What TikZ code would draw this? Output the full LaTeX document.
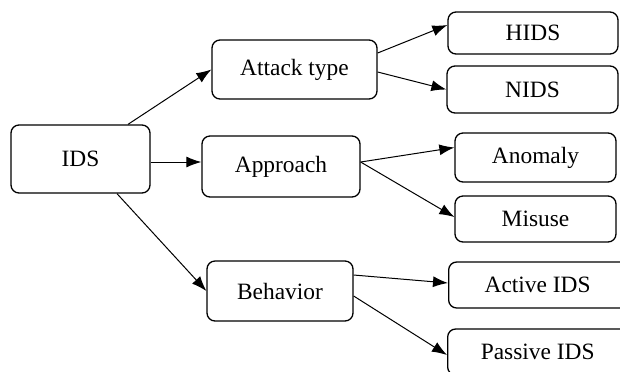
\documentclass[tikz,border=0pt]{standalone}
\usepackage{fontspec}
\setmainfont{Liberation Serif}
\usetikzlibrary{arrows.meta}

\tikzset{
  box/.style={draw,rounded corners=4pt,line width=0.65pt,inner sep=0pt,
    font=\fontsize{11.7}{14}\selectfont},
  link/.style={-{Latex[length=7.5pt,width=5.5pt]},line width=0.5pt}
}

\begin{document}
\begin{tikzpicture}[x=0.5pt,y=-0.5pt]
  \useasboundingbox (0,0) rectangle (620,371);
  \clip (0,0) rectangle (620,371);

  % root
  \node[box,minimum width=69.5pt,minimum height=34pt] (ids) at (80.5,159) {IDS};

  % criteria
  \node[box,minimum width=82.5pt,minimum height=29.5pt] (att) at (294.5,69.5) {Attack type};
  \node[box,minimum width=79pt,minimum height=30.5pt] (app) at (281,166.5) {Approach};
  \node[box,minimum width=73pt,minimum height=30pt] (beh) at (280,291) {Behavior};

  % leaves
  \node[box,minimum width=85pt,minimum height=21pt] (hids) at (533,33) {HIDS};
  \node[box,minimum width=85.5pt,minimum height=23.5pt] (nids) at (532.5,89.5) {NIDS};
  \node[box,minimum width=80.5pt,minimum height=24.5pt] (anom) at (535.5,157.5) {Anomaly};
  \node[box,minimum width=80.5pt,minimum height=23pt] (mis) at (535.5,219) {Misuse};
  % these two run off the right edge
  \node[box,minimum width=100pt,minimum height=23pt,anchor=west]
    (act) at (448,285) {\makebox[89pt]{Active IDS}\hspace*{11pt}};
  \node[box,minimum width=100pt,minimum height=23pt,anchor=west]
    (pas) at (447,352) {\makebox[90pt]{Passive IDS}\hspace*{10pt}};

  % IDS to criteria
  \draw[link] ([xshift=23.75pt]ids.north) -- (att.west);
  \draw[link] ([yshift=-1.5pt]ids.east) -- ([yshift=-1.5pt]ids.east -| app.west);
  \draw[link] ([xshift=18.25pt]ids.south) -- (beh.west);

  % criteria to leaves
  \draw[link] ([yshift=8.25pt]att.east) -- ([yshift=4pt]hids.west);
  \draw[link] ([yshift=-1.25pt]att.east) -- (nids.west);
  \draw[link] ([yshift=2.25pt]app.east) -- ([yshift=5pt]anom.west);
  \draw[link] ([yshift=2.25pt]app.east) -- ([yshift=1pt]mis.west);
  \draw[link] ([yshift=8pt]beh.east) -- ([yshift=1pt]act.west);
  \draw[link] ([yshift=-2.5pt]beh.east) -- ([yshift=-1.5pt]pas.west);
\end{tikzpicture}
\end{document}
